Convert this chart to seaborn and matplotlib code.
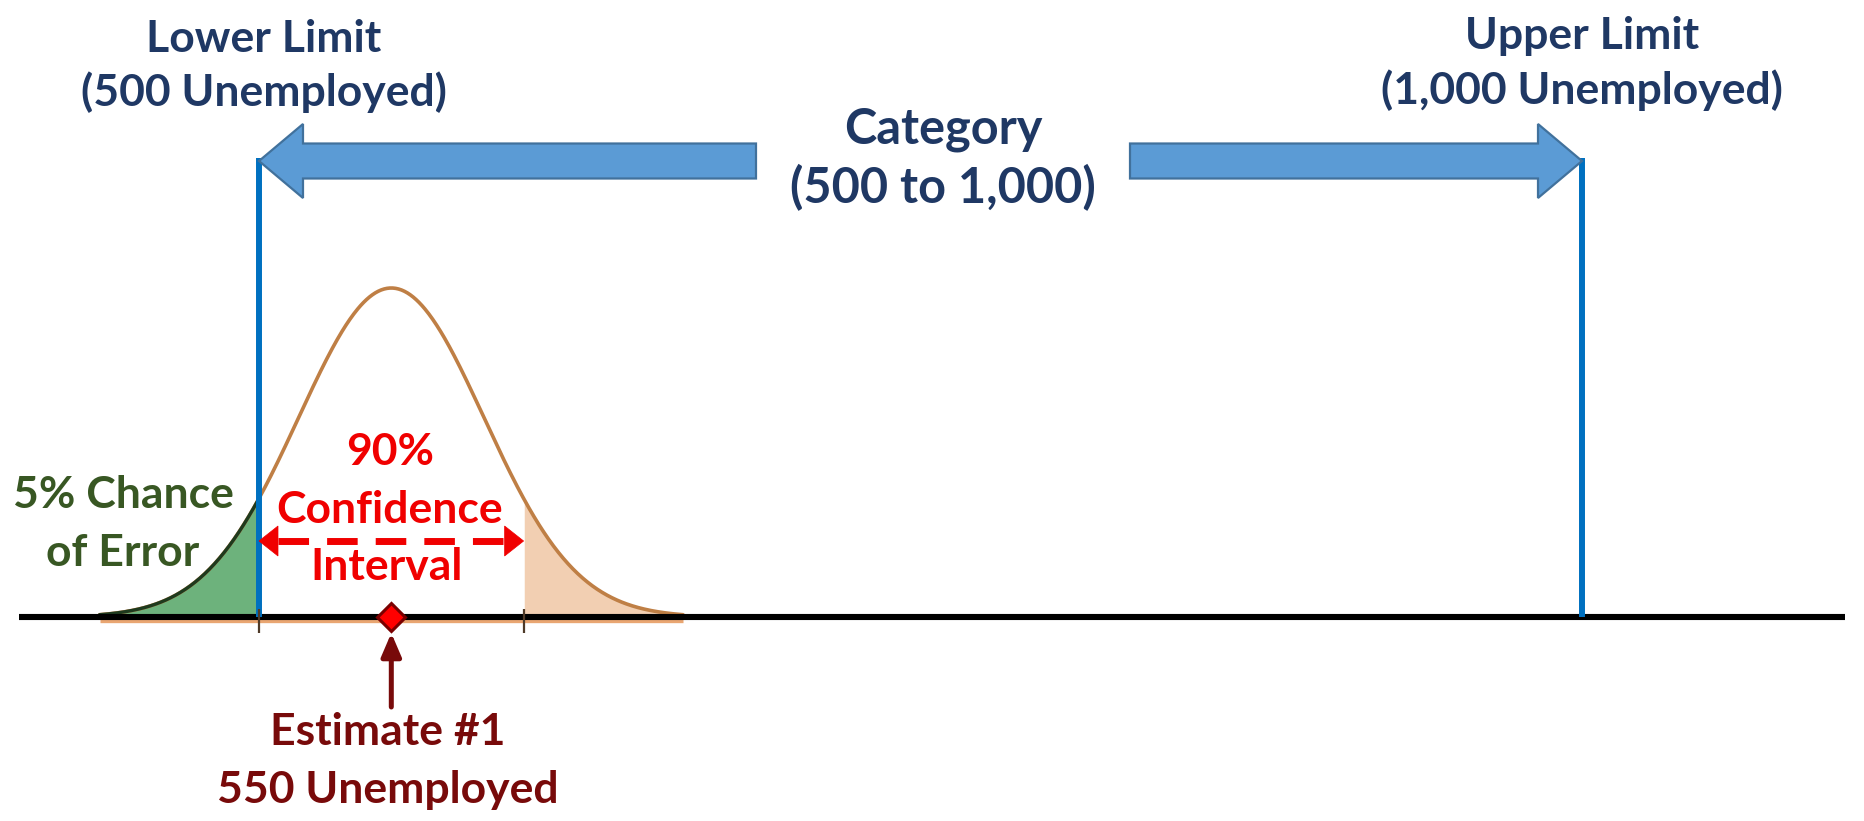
import numpy as np
import pandas as pd
import matplotlib
matplotlib.use("Agg")
import matplotlib.pyplot as plt
from matplotlib.patches import FancyArrow, Polygon
import seaborn as sns

# --- values -------------------------------------------------------------
lower_limit = 500          # category lower bound (unemployed)
upper_limit = 1000         # category upper bound (unemployed)
estimate = 550             # survey estimate #1
ci_bounds = [500, 600]     # 90% confidence interval of the estimate
std_error = 35             # spread of the sampling distribution

limit_titles = ["Lower Limit", "Upper Limit"]
limit_labels = ["(500 Unemployed)", "(1,000 Unemployed)"]
category_lines = ["Category", "(500 to 1,000)"]
ci_lines = ["90%", "Confidence", "Interval"]
error_lines = ["5% Chance", "of Error"]
estimate_lines = ["Estimate #1", "550 Unemployed"]

# --- colours ------------------------------------------------------------
NAVY = "#1F3864"
BLUE_LINE = "#0070C0"
ARROW_FILL = "#5B9BD5"
ARROW_EDGE = "#41719C"
CURVE = "#BF7F45"
GREEN_FILL = "#6DB27C"
GREEN_EDGE = "#1E3A1E"
PEACH = "#F2CFB2"
RED = "#F00000"
DARK_GREEN = "#385723"
MAROON = "#780A0A"

sns.set_theme(style="white")
plt.rcParams["font.family"] = ["Lato", "DejaVu Sans"]
plt.rcParams["font.weight"] = "bold"

W, H = 1865, 821
fig = plt.figure(figsize=(W / 100, H / 100), dpi=100)
ax = fig.add_axes([0, 0, 1, 1])
ax.set_axis_off()

# horizontal scale: lower limit at 259 px, upper limit at 1582 px
px_lo, px_hi = 259, 1582
ppu = (px_hi - px_lo) / (upper_limit - lower_limit)
x0 = lower_limit - px_lo / ppu
ax.set_xlim(x0, x0 + W / ppu)
# vertical scale in pixels above the number line (which sits 617 px from top)
base_px = 617
ax.set_ylim(-(H - base_px), base_px)


def fx(px):
    return px / W


def fy(py):
    return 1 - py / H


# --- sampling distribution curve ----------------------------------------
peak_h = 329
xs = np.linspace(estimate - 3.15 * std_error, estimate + 3.15 * std_error, 600)
ys = peak_h * np.exp(-0.5 * ((xs - estimate) / std_error) ** 2)
curve = pd.DataFrame({"x": xs, "y": ys})

left = curve[curve.x <= ci_bounds[0]]
right = curve[curve.x >= ci_bounds[1]]
ax.fill_between(left.x, 0, left.y, color=GREEN_FILL, lw=0, zorder=2)
ax.fill_between(right.x, 0, right.y, color=PEACH, lw=0, zorder=2)

# thin orange strip under the number line spanning the curve
ax.plot([xs[0], xs[-1]], [-4, -4], color="#E9A672", lw=2.4, zorder=3,
        solid_capstyle="butt")

sns.lineplot(data=curve, x="x", y="y", ax=ax, color=CURVE, lw=2.6,
             zorder=4, estimator=None, sort=False)
sns.lineplot(data=left, x="x", y="y", ax=ax, color=GREEN_EDGE, lw=2.4,
             zorder=5, estimator=None, sort=False)

# --- number line ---------------------------------------------------------
ax.axhline(0, xmin=fx(19), xmax=fx(1845), color="black", lw=4.4, zorder=6,
           solid_capstyle="butt")

# limit lines
ax.vlines([lower_limit, upper_limit], 0, base_px - 158, color=BLUE_LINE,
          lw=4.3, zorder=7)

# interval tick marks
ax.vlines(ci_bounds, -16, 8, color="#4F3A28", lw=1.6, zorder=7)

# --- category arrows ------------------------------------------------------
arrow_y = base_px - 161
shaft_w = 35
head_w = 74
head_l = 44 / ppu
for tail_px, tip in [(756, lower_limit), (1130, upper_limit)]:
    tail = x0 + tail_px / ppu
    ax.add_patch(FancyArrow(tail, arrow_y, tip - tail, 0, width=shaft_w,
                            head_width=head_w, head_length=head_l,
                            length_includes_head=True, fc=ARROW_FILL,
                            ec=ARROW_EDGE, lw=1.6, zorder=8))

# --- confidence interval double arrow ------------------------------------
ci_y = base_px - 541
hl = 19 / ppu
hh = 15
ax.plot([ci_bounds[0] + hl, ci_bounds[1] - hl], [ci_y, ci_y], color=RED,
        lw=5.0, dashes=(4.4, 2.6), zorder=8, solid_capstyle="butt",
        dash_capstyle="butt")
for tip, sgn in [(ci_bounds[0], 1), (ci_bounds[1], -1)]:
    ax.add_patch(Polygon([[tip, ci_y], [tip + sgn * hl, ci_y + hh],
                          [tip + sgn * hl, ci_y - hh]], closed=True,
                         fc=RED, ec=RED, lw=0.5, zorder=8))

# --- estimate marker ------------------------------------------------------
ax.annotate("", xy=(estimate, -16), xytext=(estimate, -90),
            arrowprops=dict(arrowstyle="-|>,head_length=0.7,head_width=0.3",
                            mutation_scale=20, color=MAROON, lw=3.6,
                            shrinkA=0, shrinkB=0), zorder=9)
ax.plot([estimate], [0], marker="D", ms=14.5, mfc="#FF0000", mec="#7A0000",
        mew=2.2, zorder=10)

# --- text -----------------------------------------------------------------
def label(px, py, s, color, size):
    ax.text(fx(px), fy(py), s, transform=ax.transAxes, ha="center",
            va="baseline", color=color, fontsize=size, fontweight="bold",
            zorder=11)


label(264, 52, limit_titles[0], NAVY, 32)
label(264, 106, limit_labels[0], NAVY, 32)
label(1582, 49, limit_titles[1], NAVY, 32)
label(1582, 104, limit_labels[1], NAVY, 32)
label(943, 143, category_lines[0], NAVY, 35)
label(943, 203, category_lines[1], NAVY, 35)

label(390, 465, ci_lines[0], RED, 32)
label(390, 523, ci_lines[1], RED, 32)
label(387, 580, ci_lines[2], RED, 32)

label(123, 508, error_lines[0], DARK_GREEN, 32)
label(123, 566, error_lines[1], DARK_GREEN, 32)

label(388, 745, estimate_lines[0], MAROON, 32)
label(388, 803, estimate_lines[1], MAROON, 32)

fig.savefig("out.png", dpi=100, facecolor="white")
